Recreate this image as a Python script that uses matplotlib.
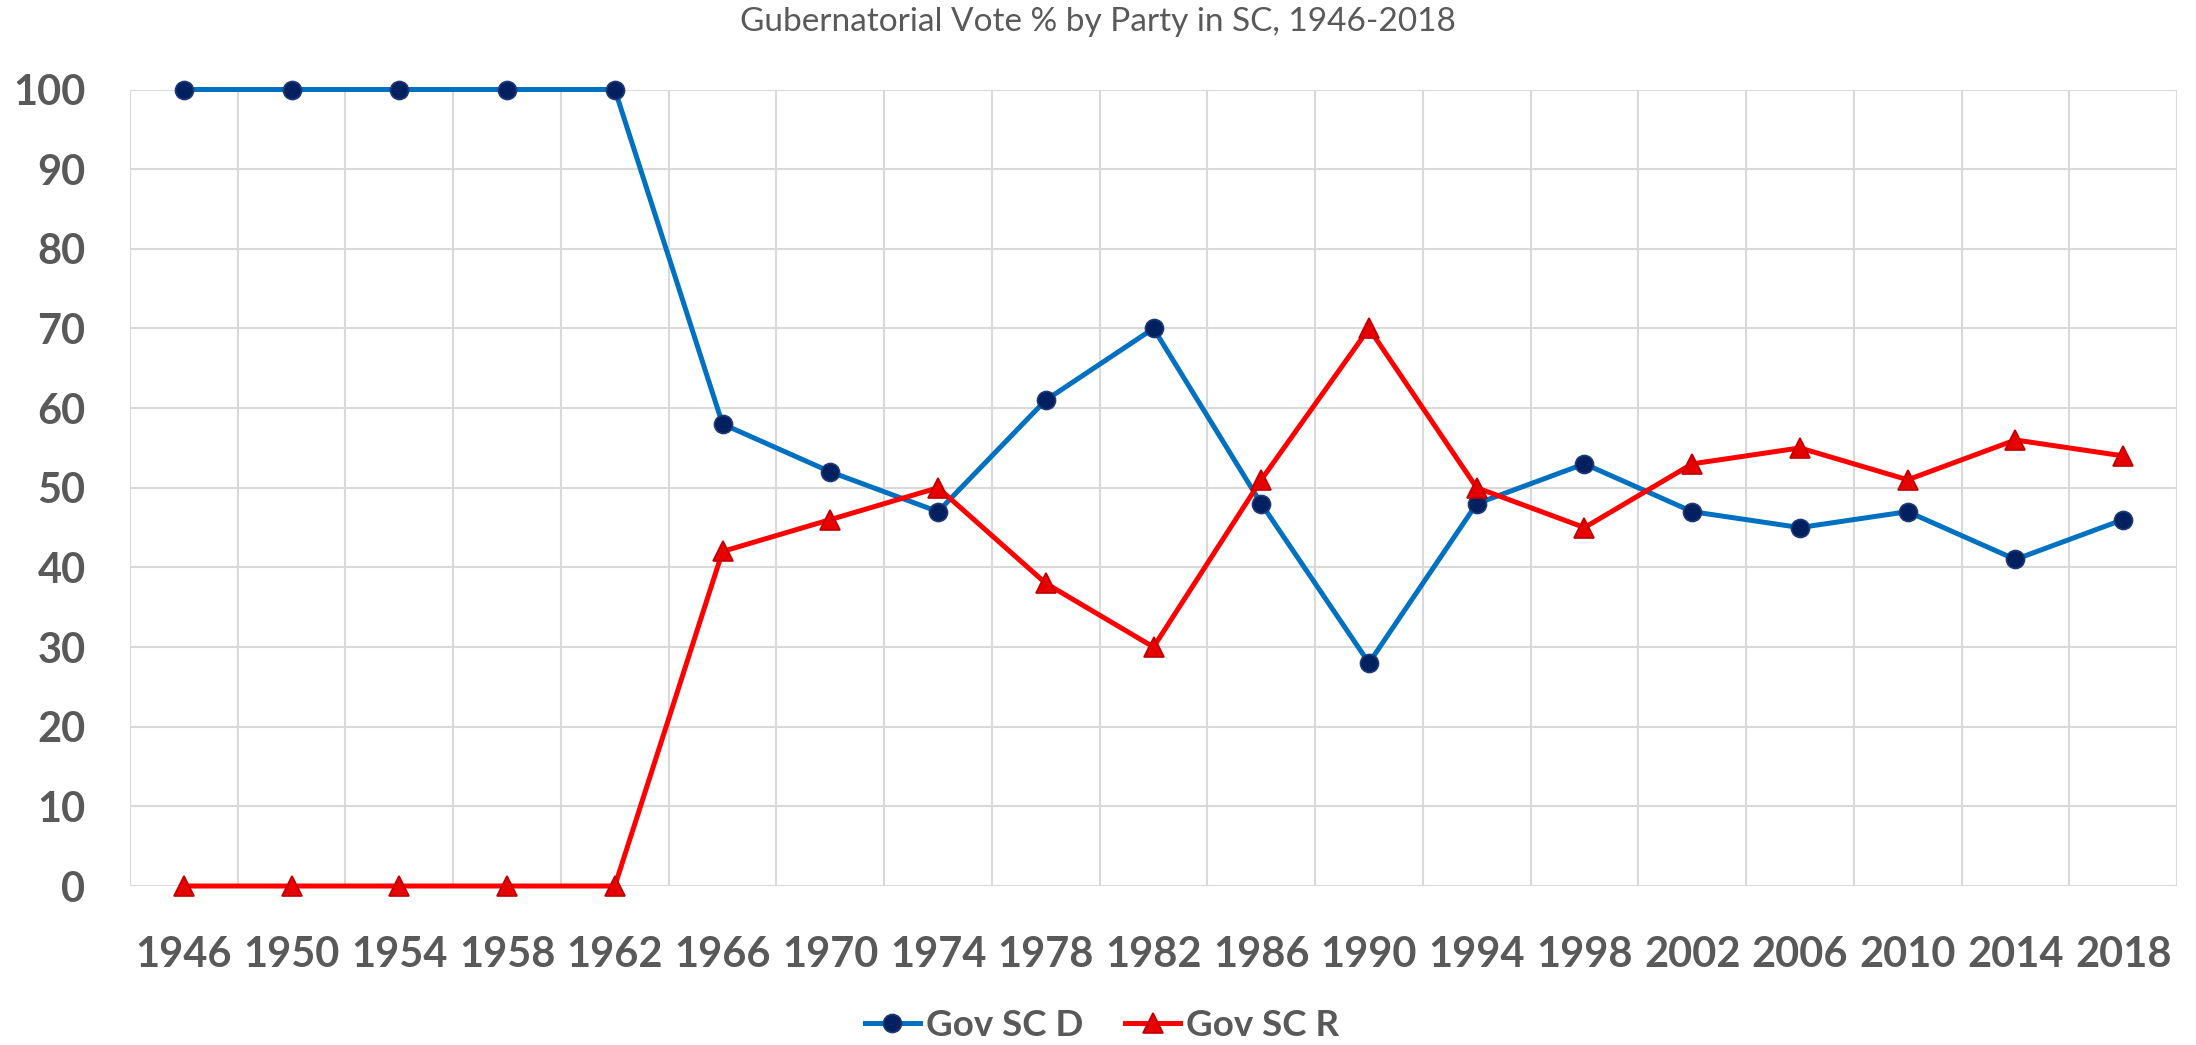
import matplotlib
matplotlib.use("Agg")
import matplotlib.pyplot as plt
from matplotlib.lines import Line2D

years = ["1946", "1950", "1954", "1958", "1962", "1966", "1970", "1974", "1978", "1982",
         "1986", "1990", "1994", "1998", "2002", "2006", "2010", "2014", "2018"]
gov_d = [100, 100, 100, 100, 100, 58, 52, 47, 61, 70, 48, 28, 48, 53, 47, 45, 47, 41, 46]
gov_r = [0, 0, 0, 0, 0, 42, 46, 50, 38, 30, 51, 70, 50, 45, 53, 55, 51, 56, 54]
y_ticks = [0, 10, 20, 30, 40, 50, 60, 70, 80, 90, 100]

plt.rcParams['font.family'] = ['Lato', 'DejaVu Sans']
gray = '#595959'
grid_c = '#D9D9D9'

fig = plt.figure(figsize=(21.96, 10.45), dpi=100)
ax = fig.add_axes([130/2196, 1-886/1045, (2177-130)/2196, (886-89.5)/1045])

x = list(range(len(years)))
d_style = dict(color='#0070C0', lw=3.6, marker='o', ms=13, mfc='#002060', mec='#1F3A78', mew=1.2)
r_style = dict(color='#FF0000', lw=3.6, marker='^', ms=14, mfc='#E60000', mec='#C00000', mew=1.2)
ax.plot(x, gov_d, zorder=3, clip_on=False, label='Gov SC D', **d_style)
ax.plot(x, gov_r, zorder=3, clip_on=False, label='Gov SC R', **r_style)

ax.set_xlim(-0.5, len(years) - 0.5)
ax.set_ylim(0, 100)
ax.set_yticks(y_ticks)
ax.set_xticks(x)
ax.set_xticklabels(years)

for v in y_ticks:
    ax.axhline(v, color=grid_c, lw=1.5, zorder=1)
for i in range(len(years) + 1):
    ax.axvline(i - 0.5, color=grid_c, lw=1.5, zorder=1)

for s in ax.spines.values():
    s.set_visible(False)
ax.tick_params(axis='both', length=0, colors=gray, labelsize=30)
ax.tick_params(axis='y', pad=32)
ax.tick_params(axis='x', pad=36)
for lab in ax.get_xticklabels() + ax.get_yticklabels():
    lab.set_fontweight('bold')
    lab.set_color(gray)

fig.text(0.5, 1-22/1045, 'Gubernatorial Vote % by Party in SC, 1946-2018',
         ha='center', va='center', fontsize=24, color=gray)

handles = [Line2D([], [], **d_style), Line2D([], [], **r_style)]
leg = fig.legend(handles, ['Gov SC D', 'Gov SC R'], loc='center', bbox_to_anchor=(1102/2196, 1-1025/1045),
                 ncol=2, frameon=False, handlelength=1.5, columnspacing=1.15, handletextpad=0.15,
                 prop={'size': 26.5, 'weight': 'bold'})
for t in leg.get_texts():
    t.set_color(gray)

fig.savefig('out.png', dpi=100)
